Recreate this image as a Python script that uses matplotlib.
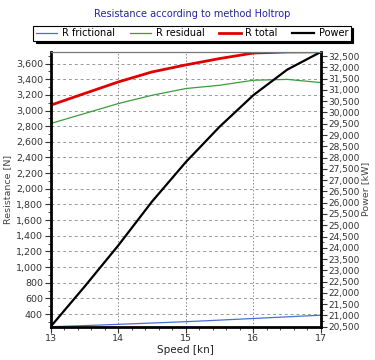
import matplotlib
matplotlib.use("Agg")
import matplotlib.pyplot as plt
from matplotlib.ticker import MultipleLocator, FuncFormatter

speed = [13, 13.5, 14, 14.5, 15, 15.5, 16, 16.5, 17]
r_frictional = [238, 252, 268, 285, 302, 322, 343, 364, 385]
r_residual = [2834, 2961, 3089, 3195, 3281, 3323, 3387, 3398, 3357]
r_total = [3068, 3217, 3365, 3493, 3583, 3664, 3735, 3748, 3750]
power = [20500, 22270, 24100, 26050, 27800, 29370, 30770, 31900, 32690]

plt.rcParams["font.family"] = "DejaVu Sans"
plt.rcParams["font.size"] = 7

fig = plt.figure(figsize=(3.75, 3.6), dpi=100)
ax = fig.add_axes([0.135, 0.0925, 0.721, 0.7635])
ax2 = ax.twinx()

l1, = ax.plot(speed, r_frictional, color="#4a6fd0", lw=0.9, label="R frictional")
l2, = ax.plot(speed, r_residual, color="#3c9c3c", lw=0.9, label="R residual")
l3, = ax.plot(speed, r_total, color="#e00000", lw=2.0, label="R total")
l4, = ax2.plot(speed, power, color="black", lw=1.6, label="Power")

ax.set_xlim(13, 17)
ax.set_ylim(238, 3750)
ax2.set_ylim(20500, 32690)

comma = FuncFormatter(lambda v, p: f"{v:,.0f}")
ax.xaxis.set_major_locator(MultipleLocator(1))
ax.xaxis.set_minor_locator(MultipleLocator(0.2))
ax.yaxis.set_minor_locator(MultipleLocator(100))
ax.yaxis.set_major_formatter(comma)
ax2.yaxis.set_minor_locator(MultipleLocator(250))
ax2.yaxis.set_major_formatter(comma)

ax.set_yticks([v for v in range(400, 3700, 200)])
ax2.set_yticks([v for v in range(20500, 33000, 500)])

ax.grid(True, axis="y", which="major", color="#999999", ls=(0, (3, 3)), lw=0.7)
ax.grid(True, axis="x", which="major", color="#888888", ls=(0, (1.5, 2)), lw=0.7)

tick_color = "#333333"
ax.tick_params(axis="both", which="major", length=4, width=0.8, colors=tick_color, labelsize=6.8, pad=1.5)
ax.tick_params(axis="both", which="minor", length=2, width=0.6, colors=tick_color)
ax2.tick_params(axis="y", which="major", length=4, width=0.8, colors=tick_color, labelsize=6.5, pad=1)
ax2.tick_params(axis="y", which="minor", length=2, width=0.6, colors=tick_color)

for s in ["left", "bottom"]:
    ax.spines[s].set_linewidth(2)
ax2.spines["right"].set_linewidth(2)
ax2.spines["left"].set_visible(False)
ax2.spines["bottom"].set_visible(False)
ax.spines["top"].set_color("#777777")
ax2.spines["top"].set_color("#777777")
ax.spines["right"].set_visible(False)

ax.set_xlabel("Speed [kn]", fontsize=7.5, color="#222222", labelpad=1)
ax.set_ylabel("Resistance [N]", fontsize=6.8, color="#444444", labelpad=3)
ax2.set_ylabel("Power [kW]", fontsize=6.8, color="#444444", labelpad=1)

fig.text(0.512, 0.962, "Resistance according to method Holtrop", ha="center", va="center",
         color="#2020c0", fontsize=7)

leg = fig.legend(handles=[l1, l2, l3, l4], loc="center", bbox_to_anchor=(0.512, 0.908),
                 ncol=4, fancybox=False, shadow={"color": "black", "alpha": 1}, edgecolor="black",
                 framealpha=1, fontsize=7, handlelength=2.2, columnspacing=1.5,
                 handletextpad=0.5, borderpad=0.25)
leg.get_frame().set_linewidth(0.8)

fig.savefig("out.png", dpi=100)
